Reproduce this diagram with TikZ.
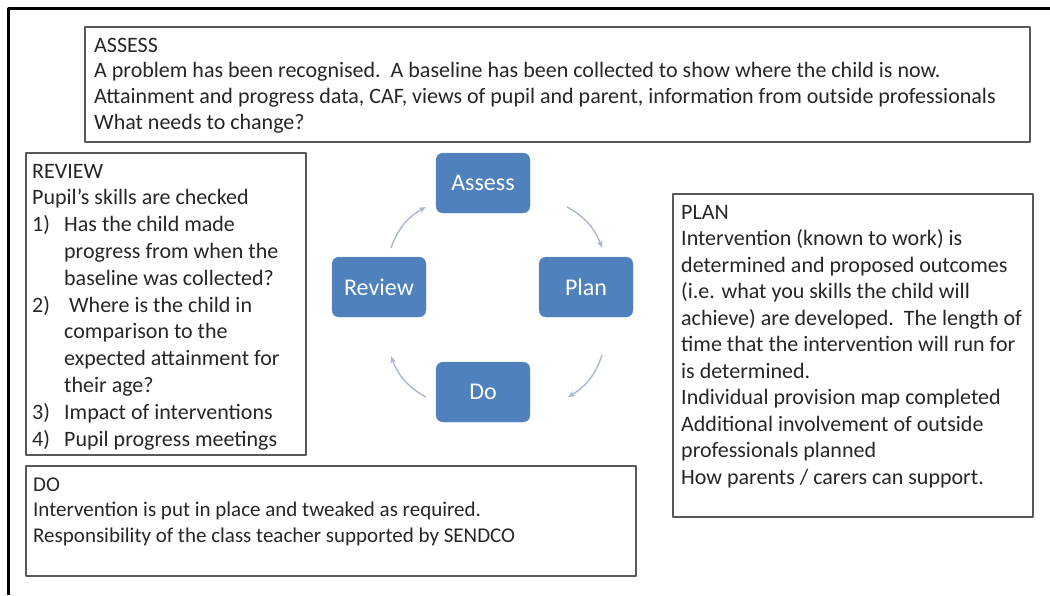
\documentclass[tikz,border=0pt]{standalone}
\usepackage{fontspec}
\setmainfont{Carlito}
\usetikzlibrary{arrows.meta}
\definecolor{stepblue}{HTML}{4F81BD}
\definecolor{cyclegrey}{HTML}{A9B8CE}
\definecolor{boxline}{HTML}{595959}
\definecolor{bodytext}{HTML}{262626}

\begin{document}
\begin{tikzpicture}[x=1pt,y=-1pt,line cap=round,line join=round,
  stage/.style={fill=stepblue,draw=stepblue!85!white,rounded corners=7pt,minimum width=94pt,minimum height=60pt,inner sep=0pt,text=white,font=\fontsize{24}{28}\selectfont},
  notebox/.style={draw=boxline,line width=1.8pt},
  notetext/.style={anchor=base west,inner sep=0pt,text=bodytext},
  cyc/.style={draw=cyclegrey,line width=1.4pt,-{Stealth[length=7pt,width=6pt]},bend left=20}]
\useasboundingbox (0,0) rectangle (1050,595);
% frame
\draw[line width=3pt,line cap=butt] (1050,8.5) -- (8.5,8.5) -- (8.5,595);

% text boxes
\draw[notebox] (85,27) rectangle (1030,142);
\draw[notebox] (26,153) rectangle (306,455);
\draw[notebox] (673,194) rectangle (1033,517);
\draw[notebox] (26,466) rectangle (636,576);

\node[notetext,font=\fontsize{22}{25.7}\selectfont] (assessnote) at (94,52) {\parbox[t]{930pt}{ASSESS\\
A problem has been recognised.\ \ A baseline has been collected to show where the child is now.\\
Attainment and progress data, CAF, views of pupil and parent, information from outside professionals\\
What needs to change?}};

\node[notetext,font=\fontsize{22}{26.8}\selectfont] (reviewnote) at (32,178) {\parbox[t]{270pt}{REVIEW\\
Pupil’s skills are checked\\
\makebox[32pt][l]{1)}Has the child made\\
\hspace*{32pt}progress from when the\\
\hspace*{32pt}baseline was collected?\\
\makebox[32pt][l]{2)}\ Where is the child in\\
\hspace*{32pt}comparison to the\\
\hspace*{32pt}expected attainment for\\
\hspace*{32pt}their age?\\
\makebox[32pt][l]{3)}Impact of interventions\\
\makebox[32pt][l]{4)}Pupil progress meetings}};

\node[notetext,font=\fontsize{22}{26.5}\selectfont] (plannote) at (681,219) {\parbox[t]{345pt}{PLAN\\
Intervention (known to work) is\\
determined and proposed outcomes\\
(i.e. what you skills the child will\\
achieve) are developed.\ \ The length of\\
time that the intervention will run for\\
is determined.\\
Individual provision map completed\\
Additional involvement of outside\\
professionals planned\\
How parents / carers can support.}};

\node[notetext,font=\fontsize{21}{25.5}\selectfont] (donote) at (33,491) {\parbox[t]{600pt}{DO\\
Intervention is put in place and tweaked as required.\\
Responsibility of the class teacher supported by SENDCO}};

% cycle
\node[stage] (assess) at (483,183) {Assess};
\node[stage] (plan) at (586,287) {Plan};
\node[stage] (dostep) at (483,392) {Do};
\node[stage] (review) at (379,287) {Review};

\draw[cyc] ([xshift=37pt,yshift=-24pt]assess.east) to ([xshift=16pt,yshift=9pt]plan.north);
\draw[cyc] ([xshift=16pt,yshift=-38pt]plan.south) to ([xshift=38pt,yshift=-5pt]dostep.east);
\draw[cyc] ([xshift=-10pt,yshift=-5pt]dostep.west) to ([xshift=12pt,yshift=-39pt]review.south);
\draw[cyc] ([xshift=12pt,yshift=9pt]review.north) to ([xshift=-10pt,yshift=-24pt]assess.west);
\end{tikzpicture}
\end{document}
